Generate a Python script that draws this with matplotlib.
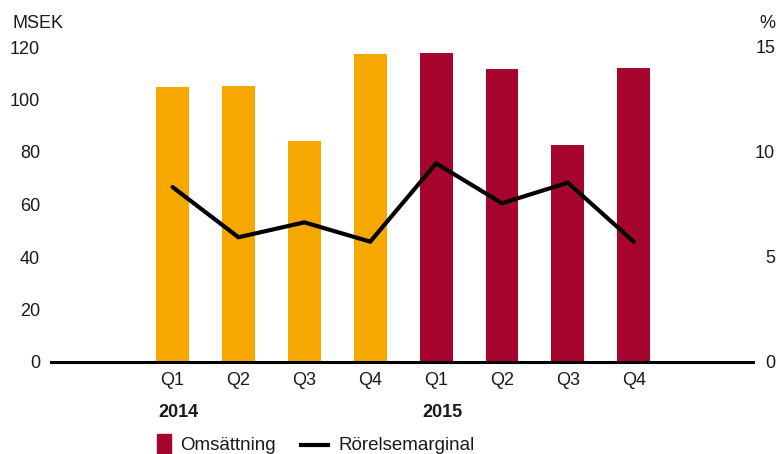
import matplotlib
matplotlib.use("Agg")
import matplotlib.pyplot as plt
from matplotlib.patches import Rectangle
from matplotlib.lines import Line2D

plt.rcParams['font.family'] = ['Liberation Sans', 'DejaVu Sans']

quarters = ["Q1", "Q2", "Q3", "Q4", "Q1", "Q2", "Q3", "Q4"]
years = ["2014", "2015"]
omsattning = [104.8, 105.1, 84.2, 117.3, 117.7, 111.6, 82.7, 112.0]
rorelsemarginal = [8.33, 5.94, 6.65, 5.73, 9.46, 7.56, 8.54, 5.73]
left_ticks = [0, 20, 40, 60, 80, 100, 120]
right_ticks = [0, 5, 10, 15]

orange = "#F6A800"
red = "#A6052E"
txt = "#1a1a1a"
bar_colors = [orange] * 4 + [red] * 4

fig = plt.figure(figsize=(7.77, 4.54), dpi=100)
ax = fig.add_axes([51/777, 1 - 362/454, (753 - 51)/777, (362 - 47)/454])
x = list(range(len(quarters)))
ax.bar(x, omsattning, width=0.5, color=bar_colors, zorder=2)
ax.set_ylim(0, 120)
ax.set_xlim(-1.845, 8.81)
ax.set_yticks(left_ticks)
ax.set_xticks(x)
ax.set_xticklabels(quarters)
for s in ["top", "left", "right"]:
    ax.spines[s].set_visible(False)
ax.spines["bottom"].set_linewidth(2.2)
ax.spines["bottom"].set_zorder(5)
ax.tick_params(axis="both", length=0, labelsize=13, colors=txt)
ax.tick_params(axis="y", pad=8)
ax.tick_params(axis="x", pad=7.5)

ax2 = ax.twinx()
ax2.plot(x, rorelsemarginal, color="black", lw=3, solid_capstyle="round",
         solid_joinstyle="miter", zorder=3)
ax2.set_ylim(0, 15)
ax2.set_xlim(-1.845, 8.81)
ax2.set_yticks(right_ticks)
for s in ["top", "left", "right", "bottom"]:
    ax2.spines[s].set_visible(False)
ax2.tick_params(axis="y", length=0, labelsize=13, colors=txt, pad=16)
for lbl in ax2.get_yticklabels():
    lbl.set_horizontalalignment("right")

# year labels
ax.text(-0.21, -0.16, years[0], transform=ax.get_xaxis_transform(),
        ha="left", va="center", fontsize=13, fontweight="bold", color=txt)
ax.text(3.79, -0.16, years[1], transform=ax.get_xaxis_transform(),
        ha="left", va="center", fontsize=13, fontweight="bold", color=txt)

# axis unit labels
fig.text(12/777, 1 - 28/454, "MSEK", ha="left", va="baseline", fontsize=13, color=txt)
fig.text(775/777, 1 - 28/454, "%", ha="right", va="baseline", fontsize=13, color=txt)

# legend
fig.patches.append(Rectangle((157/777, 1 - 456/454), 14/777, 22/454,
                             transform=fig.transFigure, color=red))
fig.text(180/777, 1 - 449.5/454, "Omsättning", ha="left", va="baseline", fontsize=13.5, color=txt)
fig.lines.append(Line2D([301/777, 328/777], [1 - 445/454, 1 - 445/454],
                        transform=fig.transFigure, color="black", lw=3))
fig.text(338/777, 1 - 449.5/454, "Rörelsemarginal", ha="left", va="baseline", fontsize=13.5, color=txt)

fig.savefig("out.png", dpi=100)
